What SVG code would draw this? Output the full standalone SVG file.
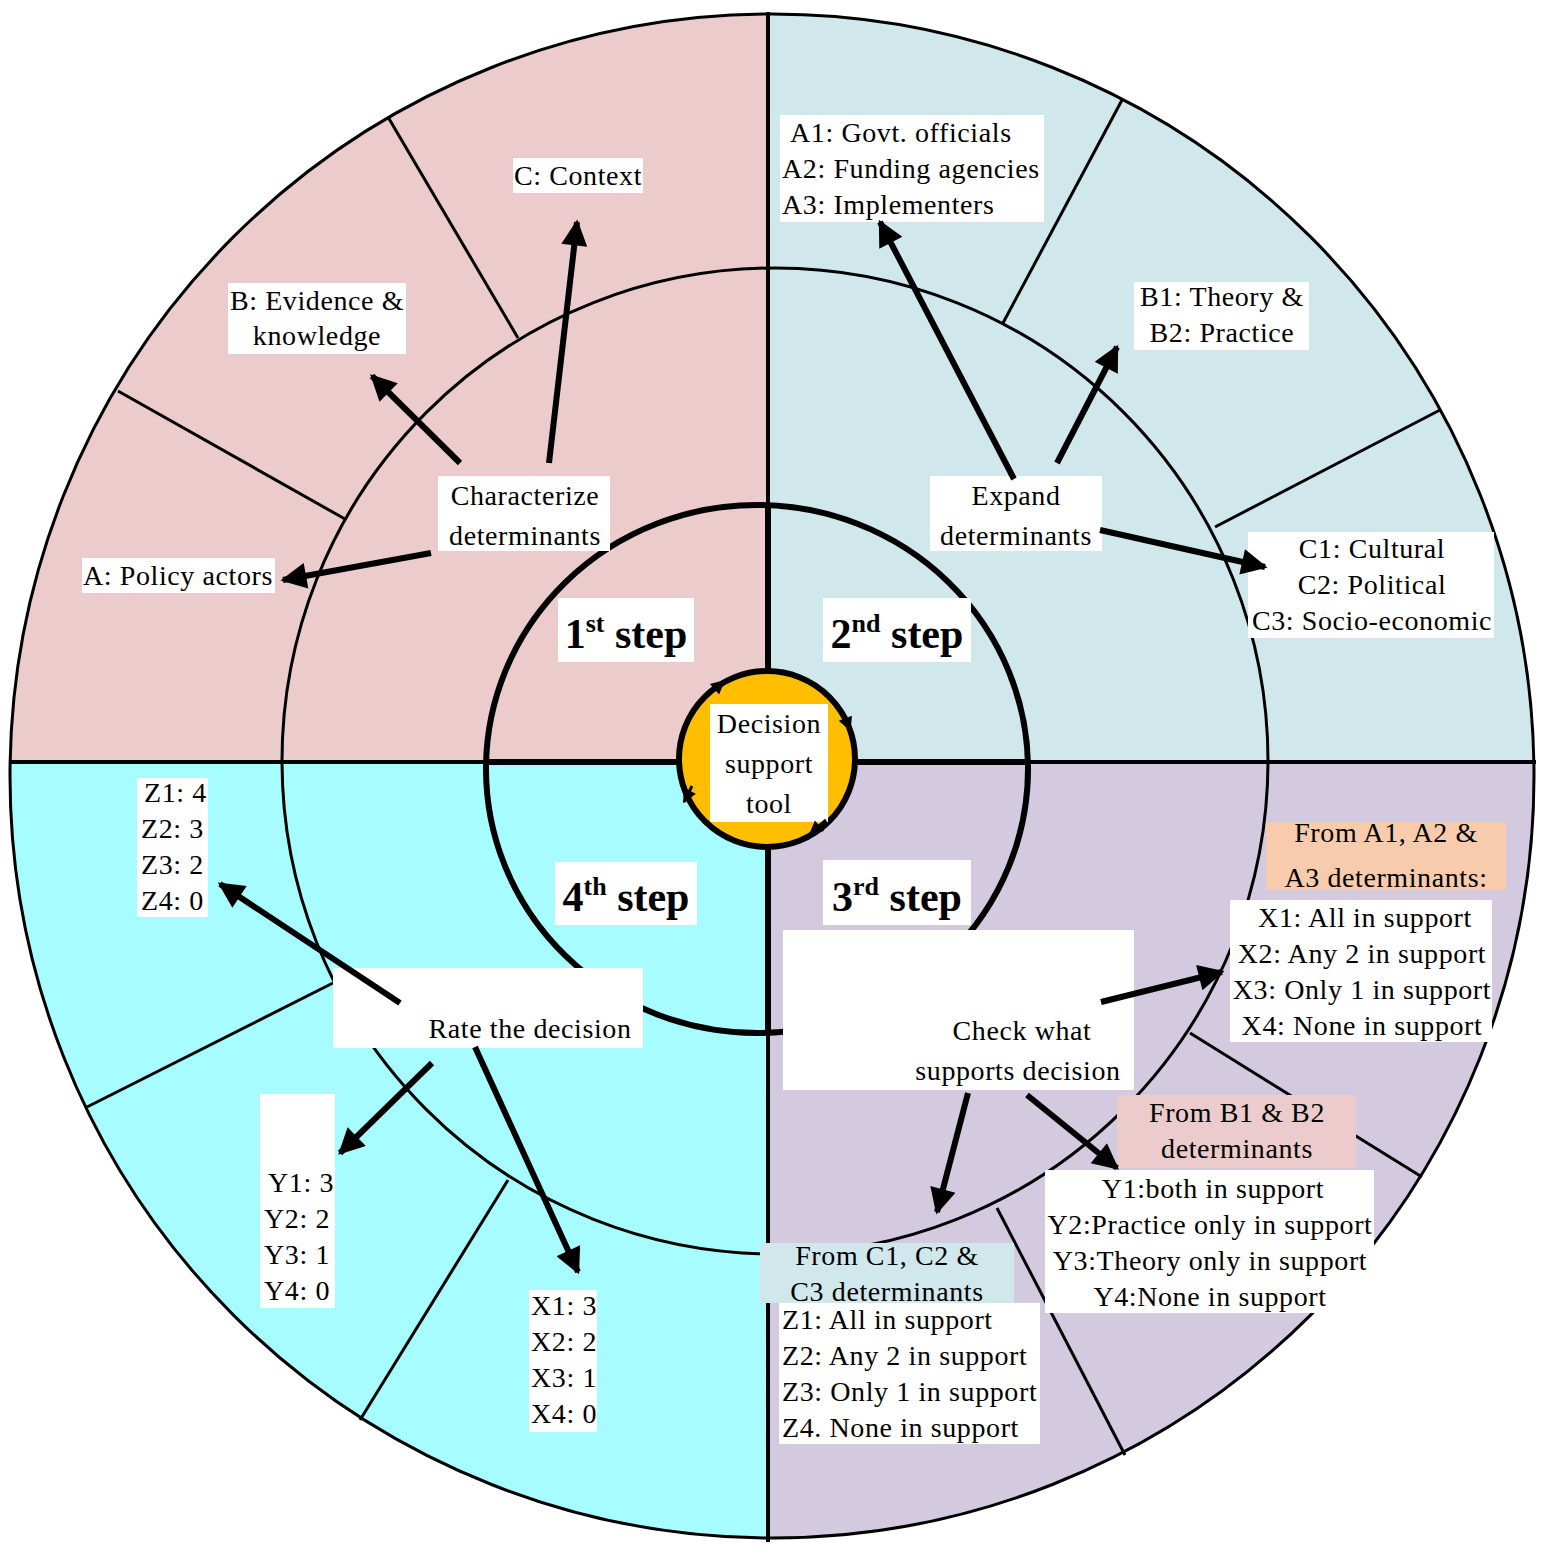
<svg xmlns="http://www.w3.org/2000/svg" width="1546" height="1556" viewBox="0 0 1546 1556">
<style>
text{font-family:"Liberation Serif","DejaVu Serif","Times New Roman",serif;font-size:28px;fill:#000;letter-spacing:0.6px}
.c{text-anchor:middle}
.b{font-weight:bold;font-size:42px;letter-spacing:0}
.w{fill:#fff}
.ln{stroke:#000;stroke-width:3;fill:none}
.ar{stroke:#000;stroke-width:6;fill:none;marker-end:url(#ah)}
</style>
<defs>
<clipPath id="cc"><circle cx="772" cy="776" r="762"/></clipPath>
<marker id="ah" viewBox="0 0 10 10" refX="9" refY="5" markerWidth="30" markerHeight="26" markerUnits="userSpaceOnUse" orient="auto"><path d="M0,0L10,5L0,10z" fill="#000"/></marker>
<marker id="sh" viewBox="0 0 10 10" refX="9" refY="5" markerWidth="16" markerHeight="14" markerUnits="userSpaceOnUse" orient="auto"><path d="M0,0L10,5L0,10z" fill="#000"/></marker>
</defs>
<rect width="1546" height="1556" fill="#fff"/>
<g id="quadrants" clip-path="url(#cc)">
<rect x="0" y="0" width="768" height="762" fill="#EBCBCB"/>
<rect x="768" y="0" width="778" height="762" fill="#D0E8EC"/>
<rect x="0" y="762" width="768" height="794" fill="#A6FCFE"/>
<rect x="768" y="762" width="778" height="794" fill="#D3CAE0"/>
</g>
<g id="rings">
<circle cx="772" cy="776" r="762" class="ln"/>
<circle cx="775" cy="761" r="493" class="ln"/>
<line x1="10" y1="762" x2="1536" y2="762" stroke="#000" stroke-width="4"/>
<line x1="768" y1="12" x2="768" y2="1542" stroke="#000" stroke-width="4"/>
<ellipse cx="757" cy="769" rx="271" ry="264" fill="none" stroke="#000" stroke-width="6"/>
<line x1="485" y1="762" x2="1030" y2="762" stroke="#000" stroke-width="6"/>
<line x1="768" y1="505" x2="768" y2="1033" stroke="#000" stroke-width="6"/>
<line x1="518" y1="338" x2="388" y2="117" class="ln"/>
<line x1="345" y1="519" x2="118" y2="391" class="ln"/>
<line x1="1003" y1="323" x2="1122" y2="100" class="ln"/>
<line x1="1215" y1="527" x2="1440" y2="410" class="ln"/>
<line x1="1190" y1="1033" x2="1422" y2="1177" class="ln"/>
<line x1="997" y1="1208" x2="1125" y2="1455" class="ln"/>
<line x1="333" y1="983" x2="87" y2="1107" class="ln"/>
<line x1="508" y1="1180" x2="360" y2="1420" class="ln"/>
</g>
<g id="center">
<circle cx="767" cy="759" r="88" fill="#FFBF00" stroke="#000" stroke-width="6"/>
<rect x="710" y="704" width="118" height="118" class="w"/>
<text x="769" y="733" class="c" font-size="30">Decision</text>
<text x="769" y="773" class="c" font-size="30">support</text>
<text x="769" y="813" class="c" font-size="30">tool</text>
</g>
<g id="steps">
<rect x="558" y="598" width="136" height="64" class="w"/><text x="626" y="648" class="c b">1<tspan font-size="26" dy="-16">st</tspan><tspan dy="16"> step</tspan></text>
<rect x="823" y="598" width="148" height="64" class="w"/><text x="897" y="648" class="c b">2<tspan font-size="26" dy="-16">nd</tspan><tspan dy="16"> step</tspan></text>
<rect x="823" y="860" width="148" height="65" class="w"/><text x="897" y="911" class="c b">3<tspan font-size="26" dy="-16">rd</tspan><tspan dy="16"> step</tspan></text>
<rect x="555" y="862" width="142" height="63" class="w"/><text x="626" y="911" class="c b">4<tspan font-size="26" dy="-16">th</tspan><tspan dy="16"> step</tspan></text>
</g>
<g id="q1">
<rect x="513" y="158" width="130" height="35" class="w"/><text x="578" y="185" class="c">C: Context</text>
<rect x="228" y="283" width="178" height="71" class="w"/><text x="317" y="310" class="c">B: Evidence &amp;</text><text x="317" y="345" class="c">knowledge</text>
<rect x="82" y="558" width="193" height="35" class="w"/><text x="178" y="585" class="c">A: Policy actors</text>
<rect x="438" y="476" width="172" height="75" class="w"/><text x="525" y="505" class="c" font-size="30">Characterize</text><text x="525" y="545" class="c" font-size="30">determinants</text>
</g>
<g id="q2">
<rect x="930" y="476" width="172" height="75" class="w"/><text x="1016" y="505" class="c" font-size="30">Expand</text><text x="1016" y="545" class="c" font-size="30">determinants</text>
<rect x="780" y="115" width="264" height="107" class="w"/><text x="790" y="142">A1: Govt. officials</text><text x="782" y="178">A2: Funding agencies</text><text x="782" y="214">A3: Implementers</text>
<rect x="1134" y="282" width="175" height="68" class="w"/><text x="1222" y="306" class="c">B1: Theory &amp;</text><text x="1222" y="342" class="c">B2: Practice</text>
<rect x="1248" y="532" width="246" height="106" class="w"/><text x="1372" y="558" class="c">C1: Cultural</text><text x="1372" y="594" class="c">C2: Political</text><text x="1372" y="630" class="c">C3: Socio-economic</text>
</g>
<g id="q3">
<rect x="1266" y="822" width="240" height="68" fill="#F8CBAD"/><text x="1386" y="842" class="c">From A1, A2 &amp;</text><text x="1386" y="887" class="c">A3 determinants:</text>
<rect x="1230" y="900" width="262" height="142" class="w"/><text x="1365" y="927" class="c">X1: All in support</text><text x="1362" y="963" class="c">X2: Any 2 in support</text><text x="1362" y="999" class="c">X3: Only 1 in support</text><text x="1362" y="1035" class="c">X4: None in support</text>
<rect x="783" y="930" width="351" height="160" class="w"/><text x="1022" y="1040" class="c" font-size="30">Check what</text><text x="1018" y="1080" class="c" font-size="30">supports decision</text>
<rect x="1117" y="1095" width="239" height="73" fill="#EBCBCB"/><text x="1237" y="1122" class="c">From B1 &amp; B2</text><text x="1237" y="1158" class="c">determinants</text>
<rect x="1045" y="1170" width="329" height="143" class="w"/><text x="1213" y="1198" class="c">Y1:both in support</text><text x="1210" y="1234" class="c">Y2:Practice only in support</text><text x="1210" y="1270" class="c">Y3:Theory only in support</text><text x="1210" y="1306" class="c">Y4:None in support</text>
<rect x="760" y="1243" width="254" height="60" fill="#D0E8EC"/><text x="887" y="1265" class="c">From C1, C2 &amp;</text><text x="887" y="1301" class="c">C3 determinants</text>
<rect x="779" y="1303" width="261" height="141" class="w"/><text x="782" y="1329">Z1: All in support</text><text x="782" y="1365">Z2: Any 2 in support</text><text x="782" y="1401">Z3: Only 1 in support</text><text x="782" y="1437">Z4. None in support</text>
</g>
<g id="q4">
<rect x="333" y="968" width="310" height="80" class="w"/><text x="530" y="1038" class="c" font-size="30">Rate the decision</text>
<rect x="137" y="778" width="71" height="139" class="w"/><text x="144" y="802">Z1: 4</text><text x="141" y="838">Z2: 3</text><text x="141" y="874">Z3: 2</text><text x="141" y="910">Z4: 0</text>
<rect x="260" y="1094" width="75" height="214" class="w"/><text x="268" y="1192">Y1: 3</text><text x="264" y="1228">Y2: 2</text><text x="264" y="1264">Y3: 1</text><text x="264" y="1300">Y4: 0</text>
<rect x="529" y="1290" width="68" height="142" class="w"/><text x="531" y="1315">X1: 3</text><text x="531" y="1351">X2: 2</text><text x="531" y="1387">X3: 1</text><text x="531" y="1423">X4: 0</text>
</g>
<g id="connectors">
<line x1="431" y1="553" x2="283" y2="580" class="ar"/>
<line x1="460" y1="463" x2="372" y2="376" class="ar"/>
<line x1="549" y1="463" x2="577" y2="222" class="ar"/>
<line x1="1014" y1="479" x2="880" y2="222" class="ar"/>
<line x1="1057" y1="463" x2="1117" y2="347" class="ar"/>
<line x1="1100" y1="530" x2="1265" y2="567" class="ar"/>
<line x1="1101" y1="1002" x2="1222" y2="972" class="ar"/>
<line x1="1027" y1="1095" x2="1117" y2="1168" class="ar"/>
<line x1="968" y1="1093" x2="937" y2="1212" class="ar"/>
<line x1="432" y1="1063" x2="340" y2="1153" class="ar"/>
<line x1="475" y1="1047" x2="578" y2="1272" class="ar"/>
<line x1="400" y1="1003" x2="220" y2="884" class="ar"/>
<path d="M708,695 L724,681" stroke="#000" stroke-width="3" marker-end="url(#sh)"/>
<path d="M843,712 L850,730" stroke="#000" stroke-width="3" marker-end="url(#sh)"/>
<path d="M826,820 L810,834" stroke="#000" stroke-width="3" marker-end="url(#sh)"/>
<path d="M692,786 L684,802" stroke="#000" stroke-width="3" marker-end="url(#sh)"/>
</g>
</svg>
